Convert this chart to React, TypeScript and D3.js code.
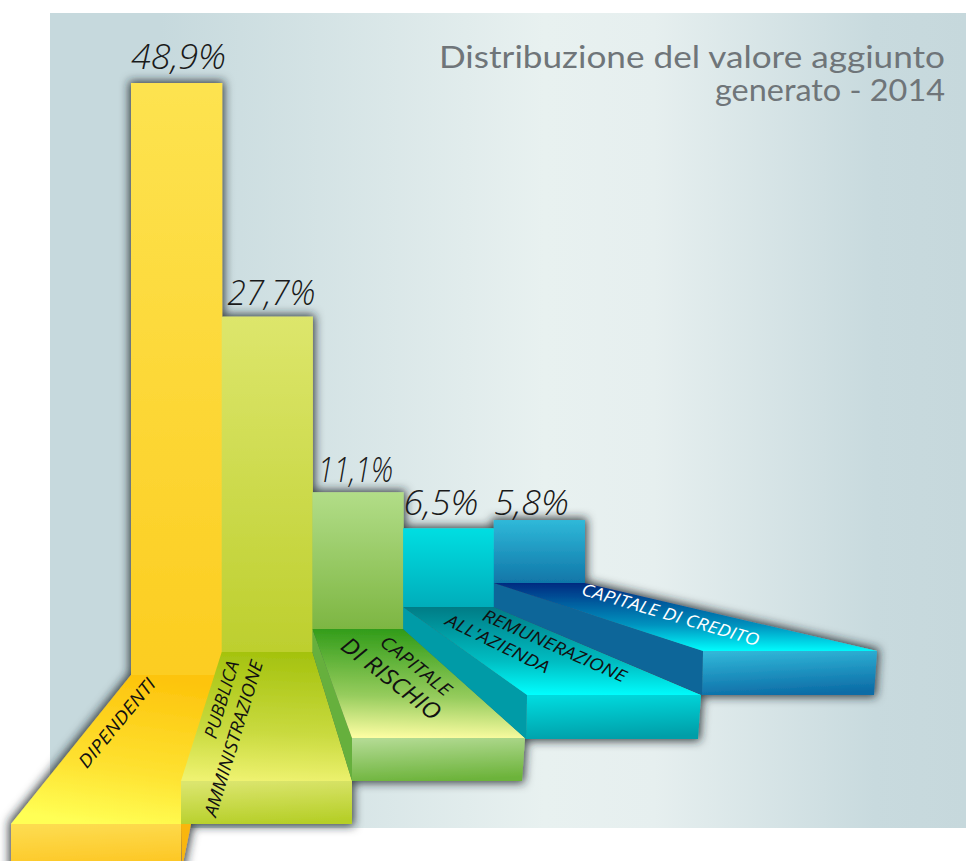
import React from "react";
import * as d3 from "d3";

const categories = ["Dipendenti", "Pubblica amministrazione", "Capitale di rischio", "Remunerazione all'azienda", "Capitale di credito"];
const valueLabels = ["48,9%", "27,7%", "11,1%", "6,5%", "5,8%"];
// bar heights, in percentage points
const barValues = [48.9, 27.7, 11.3, 6.5, 5.2];

const titleLines = ["Distribuzione del valore aggiunto", "generato - 2014"];

const barTop = ["#fde350", "#dde66c", "#b2dd88", "#00dee2", "#2fb9d9"];
const barBottom = ["#fccd20", "#bdcf2e", "#7db642", "#00adba", "#1076a8"];
const floorBack = ["#fdc40c", "#a4c20e", "#2f9b18", "#007a84", "#04277e"];
const floorFront = ["#ffff55", "#eef270", "#fcfda2", "#00ffff", "#00ffff"];
const faceTop = ["#fddc50", "#dbe56e", "#b2da92", "#00dade", "#30b6d8"];
const faceBottom = ["#fdc622", "#b6cf28", "#6cb33a", "#009ea8", "#0c6ca6"];
const sideFill = ["#f9b60c", "", "#66b03e", "#009ba7", "#0a6699"];

const W = 966, H = 861;
const x = d3.scaleBand<string>().domain(categories).range([131, 584.5]);
const height = d3.scaleLinear().domain([0, 48.9]).range([0, 592]);
const baseY = d3.scaleOrdinal<string, number>().domain(categories).range([675, 652, 629, 607, 583]);
const frontY = d3.scaleOrdinal<string, number>().domain(categories).range([824, 781, 738, 695, 651]);
const frontL = d3.scaleOrdinal<string, number>().domain(categories).range([11, 181, 352, 527, 703]);
const frontR = d3.scaleOrdinal<string, number>().domain(categories).range([181, 352, 525, 701, 877]);
const faceH = d3.scaleOrdinal<string, number>().domain(categories).range([44, 43, 43, 44, 44]);
const poly = d3.line<[number, number]>().x(d => d[0]).y(d => d[1]);
const closed = (p: [number, number][]) => poly(p) + "Z";

const valueGap = [14, 12, 10, 13, 5];
const valueX = [178.5, 271.5, 355.5, 441, 531.5];
const valueWidth = [95, 88, 75, 75, 75];

const sans = "Open Sans";
const floorLabels = [
  { t: "DIPENDENTI", x: 118, y: 724, r: -50.5, s: 18, w: 110, f: "#111" },
  { t: "PUBBLICA", x: 223, y: 700, r: -73, s: 18, w: 80, f: "#111" },
  { t: "AMMINISTRAZIONE", x: 235, y: 739, r: -73, s: 18, w: 162, f: "#111" },
  { t: "CAPITALE", x: 415, y: 667, r: 38.6, s: 18, w: 85, f: "#111" },
  { t: "DI RISCHIO", x: 390, y: 680, r: 38, s: 23, w: 119, f: "#111" },
  { t: "REMUNERAZIONE", x: 554, y: 647, r: 24, s: 17, w: 155, f: "#111" },
  { t: "ALL'AZIENDA", x: 497, y: 645, r: 26, s: 17, w: 113, f: "#111" },
  { t: "CAPITALE DI CREDITO", x: 670, y: 616, r: 16.3, s: 17, w: 184, f: "#fff" },
];

export default function App() {
  const shapes = categories.map((c, i) => {
    const bx = x(c)!, bw = x.bandwidth(), by = baseY(c), fy = frontY(c), fl = frontL(c), fr = frontR(c), fh = faceH(c);
    const prevBase = i > 0 ? baseY(categories[i - 1]) : by;
    return { c, i, bx, bw, by, fy, fl, fr, fh, prevBase, top: by - height(barValues[i]) };
  });
  const drawn = (
    <>
      {shapes.map(s => (
        <rect key={"b" + s.i} x={s.bx} y={s.top} width={s.bw + 0.5} height={s.by - s.top} fill={`url(#bar${s.i})`} />
      ))}
      {shapes.map(s => (
        <g key={"f" + s.i}>
          {s.i === 0 && (
            <path d={closed([[s.fr, s.fy], [s.fr + 10, s.fy], [s.fr + 1, s.fy + s.fh]])} fill={sideFill[0]} />
          )}
          {s.i > 1 && (
            <path d={closed([[s.bx, s.by], [s.fl, s.fy], [s.fl - (s.i > 2 ? 1 : 0), s.fy + s.fh], [s.bx, s.prevBase]])} fill={sideFill[s.i]} />
          )}
          <path d={closed([[s.bx, s.by], [s.bx + s.bw, s.by], [s.fr, s.fy], [s.fl, s.fy]])} fill={`url(#floor${s.i})`} />
          <path d={closed([[s.fl, s.fy], [s.fr, s.fy], [s.fr - (s.i > 1 ? 3 : 0), s.fy + s.fh], [s.fl - (s.i > 2 ? 1 : 0), s.fy + s.fh]])} fill={`url(#face${s.i})`} />
        </g>
      ))}
    </>
  );
  return (
    <svg width={W} height={H} viewBox={`0 0 ${W} ${H}`} style={{ position: "absolute", left: 0, top: 0 }}>
      <defs>
        <linearGradient id="bg" gradientUnits="userSpaceOnUse" x1="50" x2="966" y1="0" y2="0">
          <stop offset="0.12" stopColor="#c6d9dd" />
          <stop offset="0.54" stopColor="#e8f1f0" />
          <stop offset="0.66" stopColor="#e6efef" />
          <stop offset="0.9" stopColor="#c8dade" />
          <stop offset="1" stopColor="#c6d8dc" />
        </linearGradient>
        <filter id="shadow" x="-5%" y="-5%" width="110%" height="110%">
          <feMorphology in="SourceAlpha" operator="dilate" radius="2" result="d" />
          <feGaussianBlur in="d" stdDeviation="5" result="b" />
          <feFlood floodColor="#1c2428" floodOpacity="0.85" />
          <feComposite in2="b" operator="in" />
          <feMerge>
            <feMergeNode />
            <feMergeNode in="SourceGraphic" />
          </feMerge>
        </filter>
        {categories.map((_, i) => (
          <React.Fragment key={i}>
            <linearGradient id={`bar${i}`} x1="0" y1="0" x2="0" y2="1">
              <stop offset="0" stopColor={barTop[i]} />
              <stop offset="1" stopColor={barBottom[i]} />
            </linearGradient>
            <linearGradient id={`floor${i}`} x1={i === 0 ? 0.6 : 0.5} y1="0" x2={i === 0 ? 0.4 : 0.45} y2="1">
              <stop offset="0" stopColor={floorBack[i]} />
              <stop offset="0.62" stopColor={d3.interpolateRgb(floorBack[i], floorFront[i])(0.5)} />
              <stop offset="1" stopColor={floorFront[i]} />
            </linearGradient>
            <linearGradient id={`face${i}`} x1="0.3" y1="0" x2="0.5" y2="1">
              <stop offset="0" stopColor={faceTop[i]} />
              <stop offset="1" stopColor={faceBottom[i]} />
            </linearGradient>
          </React.Fragment>
        ))}
      </defs>
      <rect x={0} y={0} width={W} height={H} fill="#fff" />
      <rect x={50} y={13} width={W - 50} height={815} fill="url(#bg)" />
      <g filter="url(#shadow)">{drawn}</g>
      {titleLines.map((t, i) => (
        <text key={t} x={945} y={68 + i * 33} textAnchor="end" fontFamily="Lato" fontSize={31} fill="#6f7579" textLength={i === 0 ? 506 : 230} lengthAdjust="spacingAndGlyphs">{t}</text>
      ))}
      {shapes.map(s => (
        <text key={"v" + s.i} x={valueX[s.i]} y={s.top - valueGap[s.i]} textAnchor="middle" fontFamily={sans} fontStyle="italic" fontWeight={300} fontSize={34} fill="#1a1a1a" textLength={valueWidth[s.i]} lengthAdjust="spacingAndGlyphs">{valueLabels[s.i]}</text>
      ))}
      {floorLabels.map(l => (
        <text key={l.t} transform={`translate(${l.x},${l.y}) rotate(${l.r})`} textAnchor="middle" dominantBaseline="middle" fontFamily={sans} fontStyle="italic" fontSize={l.s} fill={l.f} textLength={l.w} lengthAdjust="spacingAndGlyphs">{l.t}</text>
      ))}
    </svg>
  );
}
